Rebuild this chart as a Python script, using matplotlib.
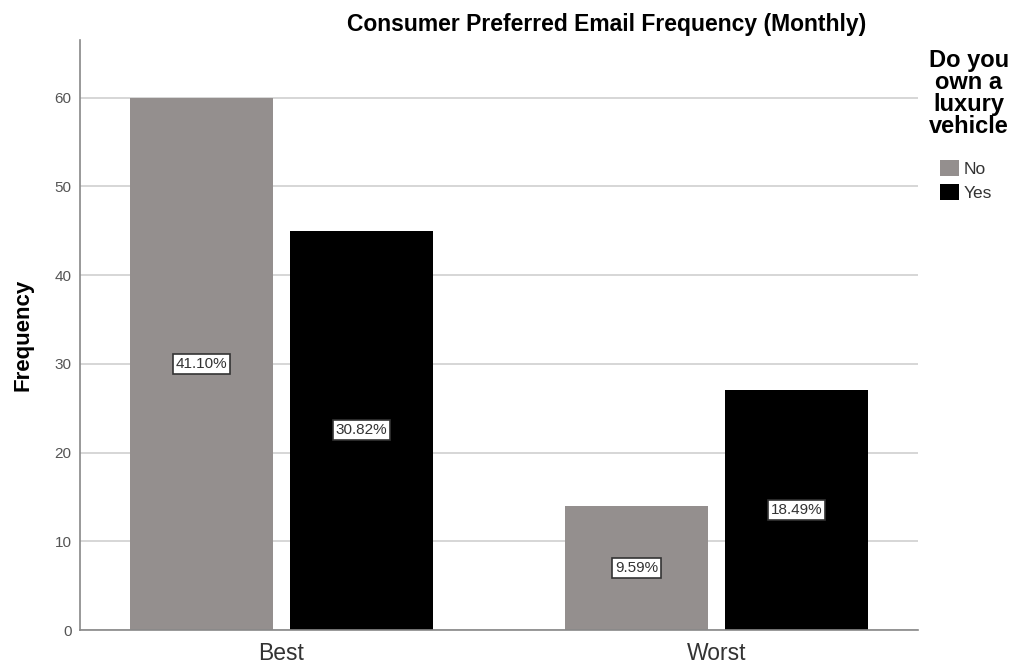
import matplotlib
matplotlib.use("Agg")
import matplotlib.pyplot as plt
import numpy as np
from matplotlib.patches import Patch

plt.rcParams['font.family'] = ['Liberation Sans', 'DejaVu Sans']

categories = ["Best", "Worst"]
series_names = ["No", "Yes"]
no_values = [60, 14]
yes_values = [45, 27]
pct_no = ["41.10%", "9.59%"]
pct_yes = ["30.82%", "18.49%"]
yticks = [0, 10, 20, 30, 40, 50, 60]
legend_title = "Do you\nown a\nluxury\nvehicle"

colors = {"No": "#948f8e", "Yes": "#000000"}

fig = plt.figure(figsize=(10.12, 6.66), dpi=100)
ax = fig.add_axes([80/1012, 1-630/666, (918-80)/1012, (630-40)/666])

x = np.arange(len(categories))
w = 0.329
off = 0.184

ax.set_axisbelow(True)
ax.yaxis.grid(True, color="#d0d0d0", linewidth=1.2)
ax.bar(x - off, no_values, width=w, color=colors["No"], zorder=2)
ax.bar(x + off, yes_values, width=w, color=colors["Yes"], zorder=2)

box = dict(boxstyle="square,pad=0.2", facecolor="white", edgecolor="#333333", linewidth=1.2)
for i in range(len(categories)):
    ax.text(x[i] - off, no_values[i] / 2, pct_no[i], ha="center", va="center",
            fontsize=11, color="#333333", bbox=box, zorder=3)
    ax.text(x[i] + off, yes_values[i] / 2, pct_yes[i], ha="center", va="center",
            fontsize=11, color="#333333", bbox=box, zorder=3)

ax.set_xlim(-0.463, 1.463)
ax.set_ylim(0, 66.5)
ax.set_yticks(yticks)
ax.set_xticks(x)
ax.set_xticklabels(categories, fontsize=16.5, color="#333333")
ax.tick_params(axis="y", length=0, labelsize=11, colors="#555555", pad=6)
ax.tick_params(axis="x", length=0, pad=9)

for s in ["top", "right"]:
    ax.spines[s].set_visible(False)
ax.spines["left"].set_color("#888888")
ax.spines["bottom"].set_color("#888888")
ax.spines["left"].set_linewidth(1.2)
ax.spines["bottom"].set_linewidth(1.2)

ax.set_ylabel("Frequency", fontsize=16, fontweight="bold", labelpad=15)
fig.text(607/1012, 1-25/666, "Consumer Preferred Email Frequency (Monthly)",
         ha="center", va="center", fontsize=16.5, fontweight="bold")

fig.text(969/1012, 1-49/666, legend_title, ha="center", va="top",
         multialignment="center", fontsize=17, fontweight="bold", linespacing=0.95)

handles = [Patch(facecolor=colors[n], edgecolor="none") for n in series_names]
leg = fig.legend(handles, series_names,
                 loc="upper left", bbox_to_anchor=(924/1012, 1-144/666), frameon=False,
                 fontsize=12.5, handlelength=1.1, handleheight=1.1, handletextpad=0.3,
                 labelspacing=0.4)
for t in leg.get_texts():
    t.set_color("#333333")

fig.savefig("out.png", dpi=100)
